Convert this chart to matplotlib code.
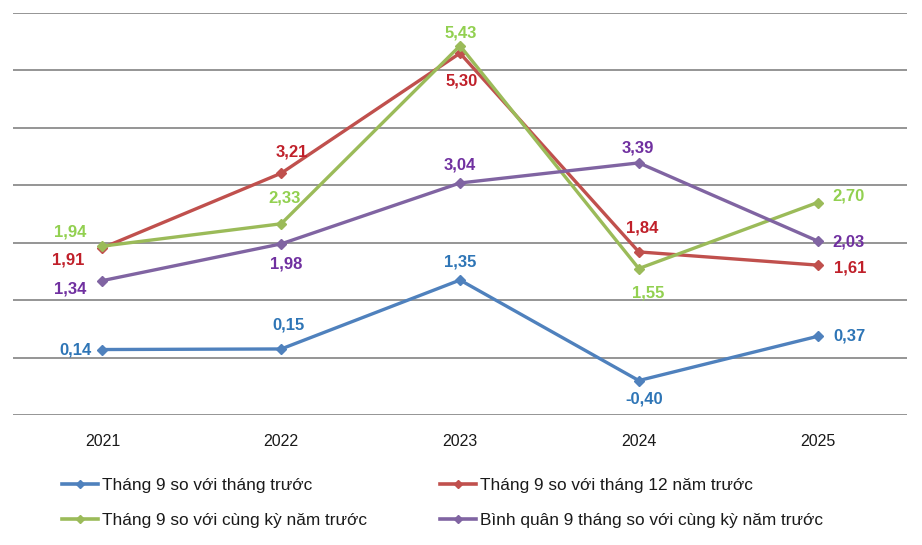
import numpy as np
import matplotlib
matplotlib.use("Agg")
import matplotlib.pyplot as plt
from matplotlib.lines import Line2D

plt.rcParams['font.family'] = ['Liberation Sans', 'DejaVu Sans']

years = ["2021", "2022", "2023", "2024", "2025"]
thang_truoc = [0.14, 0.15, 1.35, -0.40, 0.37]
thang12 = [1.91, 3.21, 5.30, 1.84, 1.61]
cung_ky = [1.94, 2.33, 5.43, 1.55, 2.70]
binh_quan = [1.34, 1.98, 3.04, 3.39, 2.03]

names = [
    "Tháng 9 so với tháng trước",
    "Tháng 9 so với tháng 12 năm trước",
    "Tháng 9 so với cùng kỳ năm trước",
    "Bình quân 9 tháng so với cùng kỳ năm trước",
]

line_cols = ["#4F81BD", "#C0504D", "#9BBB59", "#8064A2"]
text_cols = ["#2E75B6", "#C0202A", "#92D050", "#7030A0"]

# label offsets in pixels (dx, dy) and alignment per point
offsets = [
    [(-11, 0, 'right'), (7, 24, 'center'), (0, 18, 'center'), (5, -18, 'center'), (16, 0, 'left')],
    [(-18, -12, 'right'), (11, 21, 'center'), (2, -28, 'center'), (3, 24, 'center'), (16, -3, 'left')],
    [(-16, 14, 'right'), (3, 26, 'center'), (1, 13, 'center'), (9, -24, 'center'), (15, 7, 'left')],
    [(-16, -8, 'right'), (5, -20, 'center'), (0, 18, 'center'), (-1, 15, 'center'), (15, -1, 'left')],
]

fig = plt.figure(figsize=(9.22, 5.45), dpi=100)
ax = fig.add_axes([13 / 922, 1 - 415 / 545, 894 / 922, 402 / 545])

x = np.arange(len(years))
series = [thang_truoc, thang12, cung_ky, binh_quan]
for vals, lc, tc, offs in zip(series, line_cols, text_cols, offsets):
    ax.plot(x, vals, color=lc, lw=2.4, marker='D', ms=5, zorder=3)
    for xi, v, (dx, dy, ha) in zip(x, vals, offs):
        lab = f"{v:.2f}".replace('.', ',')
        ax.annotate(lab, (xi, v), xytext=(dx, dy), textcoords='offset pixels',
                    ha=ha, va='center', color=tc, fontsize=12, fontweight='bold',
                    zorder=4)

ax.set_xlim(-0.5, len(years) - 0.5)
ax.set_ylim(-1, 6)
ax.set_yticks(np.arange(-1, 7, 1))
ax.set_yticklabels([])
ax.tick_params(axis='y', length=0)
ax.grid(axis='y', color='#8C8C8C', lw=1.3)
ax.set_axisbelow(True)
for s in ax.spines.values():
    s.set_visible(False)
ax.set_xticks(x)
ax.set_xticklabels(years, fontsize=11.5, color='#1A1A1A')
ax.tick_params(axis='x', length=0, pad=14)

handles = [Line2D([0], [0], color=c, lw=2.6, marker='D', ms=4) for c in line_cols]
leg_kw = dict(loc='upper left', frameon=False, handlelength=2.1, handletextpad=0.25,
              labelspacing=1.15, borderpad=0, borderaxespad=0,
              prop={'size': 12.4}, labelcolor='#1A1A1A')
for cols, x0 in (([0, 2], 62), ([1, 3], 440)):
    leg = fig.legend([handles[i] for i in cols], [names[i] for i in cols],
                     bbox_to_anchor=(x0 / 922, 1 - 478 / 545), **leg_kw)

fig.savefig("out.png", dpi=100)
